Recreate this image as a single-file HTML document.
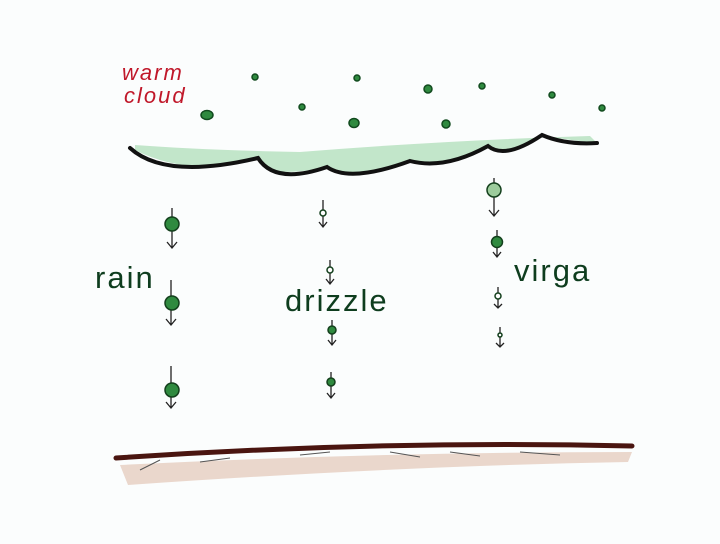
<!DOCTYPE html>
<html><head><meta charset="utf-8"><style>
html,body{margin:0;padding:0;background:#fbfdfd;}
svg{display:block}
text{font-family:"Liberation Sans",sans-serif;}
</style></head><body>
<svg width="720" height="544" viewBox="0 0 720 544" xmlns="http://www.w3.org/2000/svg">
<rect width="720" height="544" fill="#fbfdfd"/>
<text x="122" y="80" font-size="22" fill="#c0182a" font-style="italic" letter-spacing="2">warm</text>
<text x="124" y="103" font-size="22" fill="#c0182a" font-style="italic" letter-spacing="2">cloud</text>
<g fill="#2f8a3f" stroke="#114a1e" stroke-width="1.5">
<ellipse cx="207" cy="115" rx="6" ry="4.5"/>
<circle cx="255" cy="77" r="3"/>
<circle cx="302" cy="107" r="3"/>
<circle cx="357" cy="78" r="3"/>
<ellipse cx="354" cy="123" rx="5" ry="4.5"/>
<circle cx="428" cy="89" r="4"/>
<circle cx="446" cy="124" r="4"/>
<circle cx="482" cy="86" r="3"/>
<circle cx="552" cy="95" r="3"/>
<circle cx="602" cy="108" r="3"/>
</g>
<path d="M135,150 Q190,178 258,158 Q265,180 327,167 Q345,185 410,162 Q440,172 488,146 Q505,160 542,136 Q570,140 597,143 L590,136 Q450,140 300,152 Q200,150 135,145 Z" fill="#a9dcb4" opacity="0.7"/>
<path d="M130,148 Q165,180 258,158 Q275,185 327,167 Q350,183 410,161 Q445,170 488,146 Q505,160 542,135 Q565,145 597,143" fill="none" stroke="#111" stroke-width="4" stroke-linecap="round"/>
<g stroke="#222" stroke-width="1.3" fill="none">
<path d="M172,208V248M167,242L172,248L177,242"/>
<path d="M171,280V325M166,319L171,325L176,319"/>
<path d="M171,366V408M166,402L171,408L176,402"/>
<path d="M323,200V227M319,222L323,227L327,222"/>
<path d="M330,260V284M326,279L330,284L334,279"/>
<path d="M332,320V345M328,340L332,345L336,340"/>
<path d="M331,372V398M327,393L331,398L335,393"/>
<path d="M494,178V216M489,210L494,216L499,210"/>
<path d="M497,230V257M493,252L497,257L501,252"/>
<path d="M498,287V308M494,304L498,308L502,304"/>
<path d="M500,327V347M496,343L500,347L504,343"/>
</g>
<g fill="#2f8a3f" stroke="#133f1c" stroke-width="1.5">
<circle cx="172" cy="224" r="7"/>
<circle cx="172" cy="303" r="7"/>
<circle cx="172" cy="390" r="7"/>
<circle cx="323" cy="213" r="3" fill="#fff"/>
<circle cx="330" cy="270" r="3" fill="#fff"/>
<circle cx="332" cy="330" r="4"/>
<circle cx="331" cy="382" r="4"/>
<circle cx="494" cy="190" r="7" fill="#9ccc9c"/>
<circle cx="497" cy="242" r="5.5"/>
<circle cx="498" cy="296" r="3" fill="#fff"/>
<circle cx="500" cy="335" r="2" fill="#fff"/>
</g>
<text x="95" y="288" font-size="31" fill="#0e3d1e" letter-spacing="2">rain</text>
<text x="285" y="311" font-size="31" fill="#0e3d1e" letter-spacing="2">drizzle</text>
<text x="514" y="281" font-size="31" fill="#0e3d1e" letter-spacing="2">virga</text>
<path d="M120,465 Q380,452 632,452 L628,462 Q400,466 128,485 Z" fill="#e4c9bb" opacity="0.75"/>
<path d="M140,470 L160,460 M200,462 L230,458 M300,455 L330,452 M390,452 L420,457 M450,452 L480,456 M520,452 L560,455" stroke="#555" stroke-width="1" fill="none"/>
<path d="M116,458 Q380,440 632,446" fill="none" stroke="#4a1510" stroke-width="5" stroke-linecap="round"/>
</svg>
</body></html>
